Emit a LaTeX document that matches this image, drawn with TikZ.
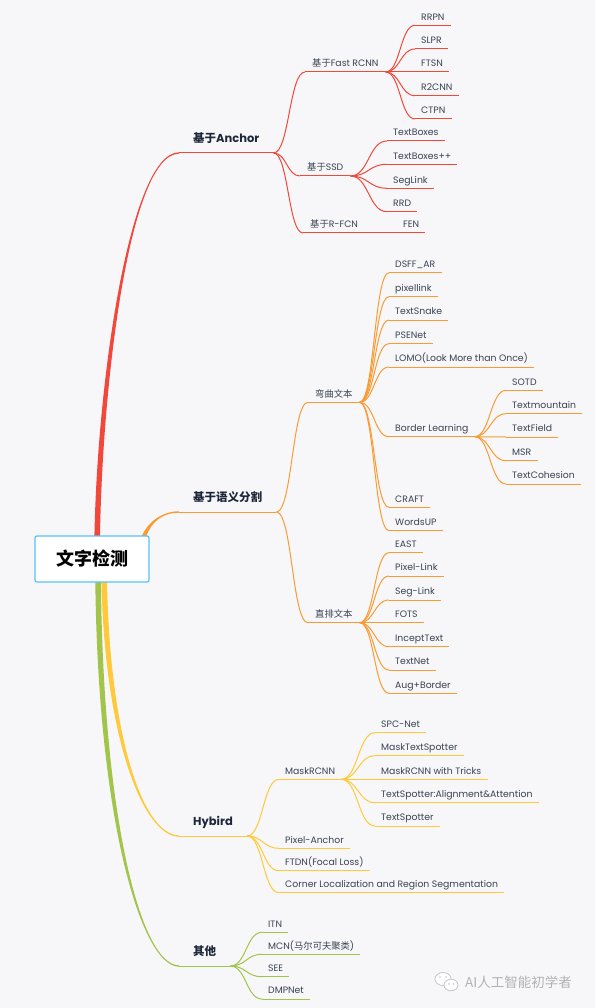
\documentclass[tikz,border=0pt]{standalone}
\usepackage{fontspec}
\setmainfont{Poppins}
\newfontfamily\cjk{Noto Sans CJK SC}
\usetikzlibrary{calc}

\definecolor{bgc}{HTML}{F7F7F9}
\definecolor{redc}{HTML}{F2473B}
\definecolor{orgc}{HTML}{F99B32}
\definecolor{yelc}{HTML}{FFC93A}
\definecolor{grnc}{HTML}{A3C44A}
\definecolor{leafc}{HTML}{3A4252}
\definecolor{topicc}{HTML}{1D2739}
\definecolor{rootc}{HTML}{56C4F7}

% tapered main branch: colour, start, c1, c2, end, side (1 up, -1 down)
\newcommand{\trunk}[6]{%
  \fill[#1] ($(#2)+(-2.8,0)$) .. controls ($(#3)+(-2.8,0)$) and ($(#4)+(0,{-0.7*(#6)})$) .. ($(#5)+(0,{-0.7*(#6)})$)
    -- ($(#5)+(0,{0.7*(#6)})$) .. controls ($(#4)+(0,{0.7*(#6)})$) and ($(#3)+(2.8,0)$) .. ($(#2)+(2.8,0)$) -- cycle;}

\begin{document}
\begin{tikzpicture}[x=1pt, y=-1pt,
  leaf/.style={anchor=south west, inner xsep=6pt, inner ysep=0pt, text depth=5pt,
    text=leafc, font=\fontsize{9.3}{11}\selectfont},
  sub/.style={leaf, inner xsep=7pt},
  topic/.style={anchor=south west, inner xsep=14pt, inner ysep=0pt, text depth=10.5pt,
    text=topicc, font=\bfseries\fontsize{11.5}{13}\selectfont},
  link/.style={to path={let \p1=(\tikztostart), \p2=(\tikztotarget) in
    .. controls ({0.5*\x1+0.5*\x2},\y1) and ({0.5*\x1+0.5*\x2},\y2) .. (\tikztotarget)}},
  twig/.style={line width=1pt}]

\fill[bgc] (0,0) rectangle (595,1008);
\useasboundingbox (0,0) rectangle (595,1008);

% topics
\node[topic] (anchor) at (179,153) {{\cjk 基于}Anchor};
\node[topic] (seg) at (179,512) {\cjk 基于语义分割};
\node[topic] (hybird) at (179,836) {Hybird};
\node[topic] (other) at (179,966) {\cjk 其他};

% main branches
\coordinate (c0) at (92,559);
\coordinate (sa) at (97,559);
\coordinate (sb) at (140,559);
\coordinate (sc) at (104,559);
\coordinate (sd) at (98,559);
\trunk{redc}{sa}{97,400}{128,153}{anchor.south west}{1}
\trunk{orgc}{sb}{140,528}{158,512}{seg.south west}{1}
\trunk{yelc}{sc}{104,730}{142,836}{hybird.south west}{-1}
\trunk{grnc}{sd}{98,810}{140,966}{other.south west}{-1}

\node[draw=rootc, fill=white, rounded corners=2pt, line width=1.2pt, minimum width=114pt,
  minimum height=46pt, font={\cjk\bfseries\fontsize{18}{20}\selectfont}] (root) at (c0) {文字检测};

% Anchor
\node[sub] (fastrcnn) at (305,72) {{\cjk 基于}Fast RCNN};
\node[sub] (ssd) at (300,176) {{\cjk 基于}SSD};
\node[sub] (rfcn) at (303,233) {{\cjk 基于}R-FCN};
\node[leaf] (rrpn) at (415,25.3) {RRPN};
\node[leaf] (slpr) at (415,49) {SLPR};
\node[leaf] (ftsn) at (415,72) {FTSN};
\node[leaf] (r2cnn) at (415,95.7) {R2CNN};
\node[leaf] (ctpn) at (415,119) {CTPN};
\node[leaf] (textboxes) at (387,141) {TextBoxes};
\node[leaf] (textboxespp) at (387,164.3) {TextBoxes++};
\node[leaf] (seglink) at (387,188.3) {SegLink};
\node[leaf] (rrd) at (387,211.7) {RRD};
\node[leaf] (fen) at (397,233) {FEN};

\begin{scope}[redc, twig]
  \foreach \k in {anchor,fastrcnn,ssd,rfcn,rrpn,slpr,ftsn,r2cnn,ctpn,textboxes,textboxespp,seglink,rrd,fen}
    \draw (\k.south west) -- (\k.south east);
  \foreach \k in {fastrcnn,ssd,rfcn}
    \draw (anchor.south east) to[link] (\k.south west);
  \foreach \k in {rrpn,slpr,ftsn,r2cnn,ctpn}
    \draw (fastrcnn.south east) to[link] (\k.south west);
  \foreach \k in {textboxes,textboxespp,seglink,rrd}
    \draw (ssd.south east) to[link] (\k.south west);
  \draw (rfcn.south east) -- (fen.south west);
\end{scope}

% semantic segmentation
\node[sub] (curved) at (308,402.3) {\cjk 弯曲文本};
\node[sub] (straight) at (308,622.7) {\cjk 直排文本};
\node[leaf] (dsff) at (389,272.7) {DSFF\_AR};
\node[leaf] (pixellink) at (389,296.7) {pixellink};
\node[leaf] (textsnake) at (389,320) {TextSnake};
\node[leaf] (psenet) at (389,343.7) {PSENet};
\node[leaf] (lomo) at (389,367) {LOMO(Look More than Once)};
\node[leaf] (border) at (389,436.7) {Border Learning};
\node[leaf] (craft) at (389,507.3) {CRAFT};
\node[leaf] (wordsup) at (389,530.7) {WordsUP};
\node[leaf] (sotd) at (506,390.3) {SOTD};
\node[leaf] (textmountain) at (506,413.7) {Textmountain};
\node[leaf] (textfield) at (506,437) {TextField};
\node[leaf] (msr) at (506,460.7) {MSR};
\node[leaf] (textcohesion) at (506,484) {TextCohesion};
\node[leaf] (eastnet) at (389,552.7) {EAST};
\node[leaf] (pixlink) at (389,576) {Pixel-Link};
\node[leaf] (seglinkb) at (389,600) {Seg-Link};
\node[leaf] (fots) at (389,622.7) {FOTS};
\node[leaf] (incepttext) at (389,646.7) {InceptText};
\node[leaf] (textnet) at (389,670) {TextNet};
\node[leaf] (augborder) at (389,693.3) {Aug+Border};

\begin{scope}[orgc, twig]
  \foreach \k in {seg,curved,straight,dsff,pixellink,textsnake,psenet,lomo,border,craft,wordsup,
      sotd,textmountain,textfield,msr,textcohesion,eastnet,pixlink,seglinkb,fots,incepttext,textnet,augborder}
    \draw (\k.south west) -- (\k.south east);
  \foreach \k in {curved,straight}
    \draw (seg.south east) to[link] (\k.south west);
  \foreach \k in {dsff,pixellink,textsnake,psenet,lomo,border,craft,wordsup}
    \draw (curved.south east) to[link] (\k.south west);
  \foreach \k in {sotd,textmountain,textfield,msr,textcohesion}
    \draw (border.south east) to[link] (\k.south west);
  \foreach \k in {eastnet,pixlink,seglinkb,fots,incepttext,textnet,augborder}
    \draw (straight.south east) to[link] (\k.south west);
\end{scope}

% Hybird
\node[leaf] (maskrcnn) at (279,779.3) {MaskRCNN};
\node[leaf] (pixelanchor) at (279,848.3) {Pixel-Anchor};
\node[leaf] (ftdn) at (279,870.7) {FTDN(Focal Loss)};
\node[leaf] (corner) at (279,892.7) {Corner Localization and Region Segmentation};
\node[leaf] (spcnet) at (375,732.7) {SPC-Net};
\node[leaf] (masktextspotter) at (375,755.7) {MaskTextSpotter};
\node[leaf] (tricks) at (375,779.3) {MaskRCNN with Tricks};
\node[leaf] (tsalign) at (375,802.7) {TextSpotter:Alignment\&Attention};
\node[leaf] (textspotter) at (375,826) {TextSpotter};

\begin{scope}[yelc, twig]
  \foreach \k in {hybird,maskrcnn,pixelanchor,ftdn,corner,spcnet,masktextspotter,tricks,tsalign,textspotter}
    \draw (\k.south west) -- (\k.south east);
  \foreach \k in {maskrcnn,pixelanchor,ftdn,corner}
    \draw (hybird.south east) to[link] (\k.south west);
  \foreach \k in {spcnet,masktextspotter,tricks,tsalign,textspotter}
    \draw (maskrcnn.south east) to[link] (\k.south west);
\end{scope}

% others
\node[leaf] (itn) at (262,932.3) {ITN};
\node[leaf] (mcn) at (262,954.3) {MCN({\cjk 马尔可夫聚类})};
\node[leaf] (see) at (262,976.7) {SEE};
\node[leaf] (dmpnet) at (262,999) {DMPNet};

\begin{scope}[grnc, twig]
  \foreach \k in {other,itn,mcn,see,dmpnet}
    \draw (\k.south west) -- (\k.south east);
  \foreach \k in {itn,mcn,see,dmpnet}
    \draw (other.south east) to[link] (\k.south west);
\end{scope}

% watermark
\draw[gray!45, fill=white, line width=0.8pt] (443,979) ellipse (8 and 6.5);
\draw[gray!45, fill=white, line width=0.8pt] (451,985) ellipse (7 and 5.8);
\fill[gray!45] (440,977) circle (0.9) (446,977) circle (0.9) (449,984) circle (0.8) (453.5,984) circle (0.8);
\node[anchor=west, inner sep=0pt, text=gray!60, font={\cjk\fontsize{13.5}{15}\selectfont}] (wm) at (465,982) {AI人工智能初学者};

\end{tikzpicture}
\end{document}
